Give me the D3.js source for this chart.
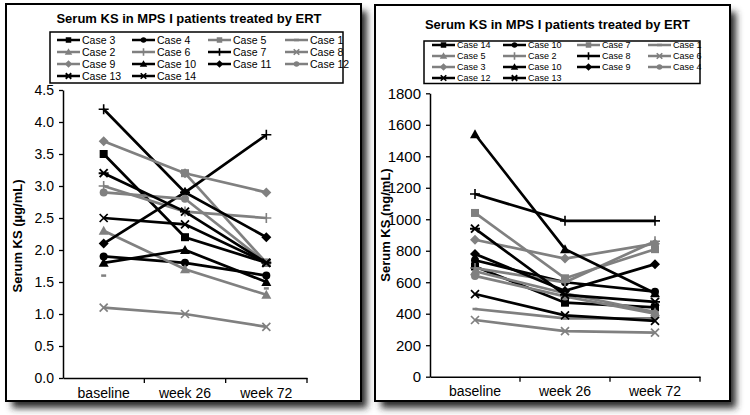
<!DOCTYPE html>
<html><head><meta charset="utf-8">
<script src="https://cdn.jsdelivr.net/npm/d3@7"></script>
<style>body{margin:0;background:#fff}svg{display:block}text{font-family:Arial,"Liberation Sans",sans-serif}</style>
</head><body><svg id="c" width="750" height="415"></svg>
<script>
// ---------- DATA ----------
const categories = ["baseline", "week 26", "week 72"];
const chartTitle = "Serum KS in MPS I patients treated by ERT";

const leftCases = ["Case 3","Case 4","Case 5","Case 1","Case 2","Case 6","Case 7","Case 8","Case 9","Case 10","Case 11","Case 12","Case 13","Case 14"];
const leftValues = [
  [3.5, 2.2, 1.8],
  [1.9, 1.8, 1.6],
  [null, 3.2, 1.8],
  [1.6, null, 1.4],
  [2.3, 1.7, 1.3],
  [3.0, 2.6, 2.5],
  [4.2, 2.9, 3.8],
  [1.1, 1.0, 0.8],
  [3.7, 3.2, 2.9],
  [1.8, 2.0, 1.5],
  [2.1, 2.9, 2.2],
  [2.9, 2.8, 1.8],
  [3.2, 2.6, 1.8],
  [2.5, 2.4, 1.8]
];
const leftTicks = [0, 0.5, 1.0, 1.5, 2.0, 2.5, 3.0, 3.5, 4.0, 4.5];
const leftYLabel = "Serum KS (µg/mL)";

const rightCases = ["Case 14","Case 10","Case 7","Case 1","Case 5","Case 2","Case 8","Case 6","Case 3","Case 10","Case 9","Case 4","Case 12","Case 13"];
const rightValues = [
  [700, 470, 440],
  [740, 600, 540],
  [1040, 625, 810],
  [430, 370, 370],
  [670, 530, 410],
  [690, 600, 860],
  [1160, 990, 990],
  [360, 290, 280],
  [870, 750, 845],
  [1540, 810, 530],
  [780, 545, 715],
  [640, 510, 400],
  [525, 390, 355],
  [940, 520, 475]
];
const rightTicks = [0, 200, 400, 600, 800, 1000, 1200, 1400, 1600, 1800];
const rightYLabel = "Serum KS (ng/mL)";

// ---------- STYLES (per series, same order as the case lists) ----------
const BLACK = "#000", GRAY = "#808080";
const leftStyle = [
  [BLACK,"square"],[BLACK,"circle"],[GRAY,"square"],[GRAY,"dash"],
  [GRAY,"triangle"],[GRAY,"plus"],[BLACK,"plus"],[GRAY,"x"],
  [GRAY,"diamond"],[BLACK,"triangle"],[BLACK,"diamond"],[GRAY,"circle"],
  [BLACK,"star"],[BLACK,"x"]
];
const rightStyle = [
  [BLACK,"square"],[BLACK,"circle"],[GRAY,"square"],[GRAY,"dash"],
  [GRAY,"triangle"],[GRAY,"plus"],[BLACK,"plus"],[GRAY,"x"],
  [GRAY,"diamond"],[BLACK,"triangle"],[BLACK,"diamond"],[GRAY,"circle"],
  [BLACK,"x"],[BLACK,"star"]
];

// ---------- DRAW ----------
const svg = d3.select("#c");
const defs = svg.append("defs");
const f = defs.append("filter").attr("id","sh").attr("x","-10%").attr("y","-10%").attr("width","130%").attr("height","130%");
f.append("feGaussianBlur").attr("stdDeviation", 3.5);

function marker(g, type, x, y, color, s) {
  const h = s / 2;
  switch (type) {
    case "square":
      g.append("rect").attr("x", x - h).attr("y", y - h).attr("width", s).attr("height", s).attr("fill", color); break;
    case "circle":
      g.append("circle").attr("cx", x).attr("cy", y).attr("r", h).attr("fill", color); break;
    case "triangle":
      g.append("path").attr("d", `M${x},${y - h - 1}L${x + h + 1},${y + h}L${x - h - 1},${y + h}Z`).attr("fill", color); break;
    case "diamond":
      g.append("path").attr("d", `M${x},${y - h - 1}L${x + h + 1},${y}L${x},${y + h + 1}L${x - h - 1},${y}Z`).attr("fill", color); break;
    case "plus":
      g.append("path").attr("d", `M${x - h - 1},${y}H${x + h + 1}M${x},${y - h - 1}V${y + h + 1}`).attr("stroke", color).attr("stroke-width", 1.6).attr("fill", "none"); break;
    case "x":
      g.append("path").attr("d", `M${x - h},${y - h}L${x + h},${y + h}M${x - h},${y + h}L${x + h},${y - h}`).attr("stroke", color).attr("stroke-width", 1.7).attr("fill", "none"); break;
    case "star":
      g.append("path").attr("d", `M${x - h},${y - h}L${x + h},${y + h}M${x - h},${y + h}L${x + h},${y - h}M${x - h - 1},${y}H${x + h + 1}`).attr("stroke", color).attr("stroke-width", 1.9).attr("fill", "none"); break;
    case "dash":
      g.append("path").attr("d", `M${x - 2.5},${y}H${x + 2.5}`).attr("stroke", color).attr("stroke-width", 2.5).attr("fill", "none"); break;
  }
}

function panel(cfg) {
  const g = svg.append("g");
  // shadow + frame
  g.append("rect").attr("x", cfg.frame[0] + 6).attr("y", cfg.frame[1] + 7).attr("width", cfg.frame[2]).attr("height", cfg.frame[3])
    .attr("fill", "#2a2a2a").attr("filter", "url(#sh)");
  g.append("rect").attr("x", cfg.frame[0]).attr("y", cfg.frame[1]).attr("width", cfg.frame[2]).attr("height", cfg.frame[3])
    .attr("fill", "#fff").attr("stroke", "#000").attr("stroke-width", 2);
  // title
  g.append("text").attr("x", cfg.titleX).attr("y", cfg.titleY).attr("text-anchor", "middle")
    .attr("font-size", 13).attr("font-weight", "bold").text(chartTitle);

  const x = d3.scaleBand().domain(categories).range([cfg.x0, cfg.x1]).padding(0);
  const y = d3.scaleLinear().domain(cfg.domain).range([cfg.y0, cfg.y1]);
  const bw = x.bandwidth();

  // y axis
  const ya = g.append("g").attr("transform", `translate(${cfg.x0},0)`)
    .call(d3.axisLeft(y).tickValues(cfg.ticks).tickSize(4).tickSizeOuter(0).tickPadding(5).tickFormat(cfg.fmt));
  ya.select(".domain").attr("stroke", "#000").attr("stroke-width", 1.5);
  ya.selectAll(".tick line").attr("stroke", "#000").attr("stroke-width", 1.3);
  ya.selectAll(".tick text").attr("font-size", cfg.yFont).attr("fill", "#000").style("font-family", "Arial, 'Liberation Sans', sans-serif");

  // x axis
  const xa = g.append("g").attr("transform", `translate(0,${cfg.y0})`)
    .call(d3.axisBottom(x).tickSize(0).tickSizeOuter(0).tickPadding(cfg.xPad));
  xa.select(".domain").attr("stroke", "#000").attr("stroke-width", 1.5);
  xa.selectAll(".tick text").attr("font-size", 14).attr("fill", "#000").style("font-family", "Arial, 'Liberation Sans', sans-serif");
  categories.forEach(c => {
    const xe = x(c) + bw;
    xa.append("line").attr("x1", xe).attr("x2", xe).attr("y1", 0).attr("y2", 5).attr("stroke", "#000").attr("stroke-width", 1.3);
  });

  // y label
  g.append("text").attr("transform", `translate(${cfg.ylX},${cfg.ylY}) rotate(-90)`).attr("text-anchor", "middle")
    .attr("dominant-baseline", "central").attr("font-size", 13).attr("font-weight", "bold").text(cfg.yLabel);

  // series
  const line = d3.line().defined(d => d.v != null).x(d => x(d.c) + bw / 2).y(d => y(d.v));
  cfg.values.forEach((vals, i) => {
    const [color, type] = cfg.style[i];
    const pts = vals.map((v, j) => ({ c: categories[j], v }));
    g.append("path").datum(pts).attr("d", line).attr("fill", "none").attr("stroke", color).attr("stroke-width", 2.7);
    pts.filter(p => p.v != null).forEach(p => marker(g, type, x(p.c) + bw / 2, y(p.v), color, 8));
  });

  // legend
  const L = cfg.legend;
  g.append("rect").attr("x", L.x).attr("y", L.y).attr("width", L.w).attr("height", L.h)
    .attr("fill", "#fff").attr("stroke", "#000").attr("stroke-width", 1.5);
  cfg.names.forEach((name, i) => {
    const col = i % 4, row = Math.floor(i / 4);
    const lx = L.cols[col], ly = L.rows[row];
    const [color, type] = cfg.style[i];
    g.append("line").attr("x1", lx).attr("x2", lx + L.len).attr("y1", ly).attr("y2", ly).attr("stroke", color).attr("stroke-width", 2.5);
    marker(g, type, lx + L.len / 2, ly, color, 5.5);
    g.append("text").attr("x", lx + L.len + 2).attr("y", ly).attr("dominant-baseline", "central")
      .attr("font-size", L.font).text(name);
  });
}

panel({
  frame: [6, 4, 355, 397], titleX: 189, titleY: 22.5,
  x0: 63, x1: 307, y0: 378, y1: 90, domain: [0, 4.5], ticks: leftTicks, fmt: d3.format(".1f"), yFont: 14, xPad: 10,
  ylX: 17, ylY: 236, yLabel: leftYLabel,
  values: leftValues, style: leftStyle, names: leftCases,
  legend: { x: 50, y: 32, w: 293, h: 51, cols: [57, 132, 208, 285], rows: [40, 52, 64, 76], len: 23, font: 10.5 }
});

panel({
  frame: [375, 5, 355, 396], titleX: 557.5, titleY: 29,
  x0: 430, x1: 700, y0: 376.7, y1: 93.3, domain: [0, 1800], ticks: rightTicks, fmt: d3.format("d"), yFont: 15, xPad: 9,
  ylX: 385, ylY: 225, yLabel: rightYLabel,
  values: rightValues, style: rightStyle, names: rightCases,
  legend: { x: 424, y: 41, w: 276, h: 42.5, cols: [432, 503, 577, 648], rows: [45, 56, 67, 78], len: 23, font: 9 }
});
</script></body></html>
